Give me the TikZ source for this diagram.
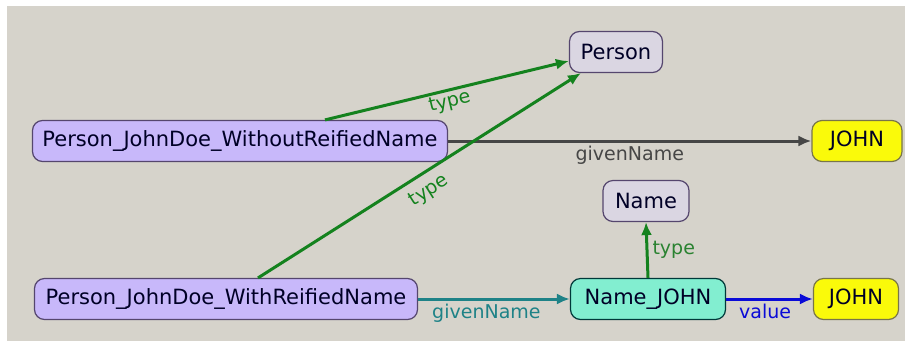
\documentclass[tikz,border=0pt]{standalone}
\usepackage{fontspec}
\setmainfont{DejaVu Sans}
\usetikzlibrary{arrows.meta,positioning}
\definecolor{bgray}{RGB}{214,211,203}
\definecolor{lila}{RGB}{200,184,250}
\definecolor{lilaedge}{RGB}{85,70,110}
\definecolor{clsfill}{RGB}{218,214,226}
\definecolor{aqua}{RGB}{130,238,208}
\definecolor{lityel}{RGB}{250,250,10}
\definecolor{green1}{RGB}{20,130,30}
\definecolor{teal1}{RGB}{30,130,135}
\definecolor{blue1}{RGB}{10,10,215}
\definecolor{gray1}{RGB}{70,70,70}

\tikzset{
  res/.style={draw=lilaedge, line width=1.2pt, rounded corners=10pt, fill=lila,
    minimum height=41pt, inner sep=0pt, text=black!85!blue,
    font=\fontsize{21}{23}\selectfont},
  cls/.style={res, fill=clsfill},
  lit/.style={res, fill=lityel, draw=black!60!yellow},
  obj/.style={res, fill=aqua, draw=black!55!teal},
  rel/.style={line width=3pt, -{Latex[length=13pt,width=11pt]}},
  lbl/.style={font=\fontsize{19}{21}\selectfont, inner sep=1pt}
}

\begin{document}
\begin{tikzpicture}[x=1pt,y=-1pt]
\useasboundingbox (0,0) rectangle (912,341);
\fill[bgray] (7,6) rectangle (905,341);

% ----- top row: resource without reified name -----
\node[cls, minimum width=93pt] (person) at (616,52) {Person};
\node[res, minimum width=415pt] (pwo) at (240,141) {Person\_JohnDoe\_WithoutReifiedName};
\node[lit, minimum width=90pt] (johnA) at (857,141) {JOHN};

% ----- bottom row: resource with reified name -----
\node[cls, minimum width=86pt] (name) at (646,201) {Name};
\node[res, minimum width=383pt] (pw) at (226,299) {Person\_JohnDoe\_WithReifiedName};
\node[obj, minimum width=155pt] (nj) at (648,299) {Name\_JOHN};
\node[lit, minimum width=85pt] (johnB) at (856,299) {JOHN};

% edges
\draw[rel, gray1] (pwo.east) -- (johnA.west)
  node[lbl, text=gray1, pos=0.5, below=3pt] {givenName};
\draw[rel, green1] ([xshift=85pt]pwo.north) -- ([yshift=-9pt]person.west)
  node[lbl, text=green1, pos=0.5, below=1pt, sloped] {type};
\draw[rel, green1] ([xshift=32pt]pw.north) -- ([xshift=12pt]person.south west)
  node[lbl, text=green1, pos=0.5, below=7pt, sloped] {type};
\draw[rel, teal1] (pw.east) -- (nj.west)
  node[lbl, text=teal1, pos=0.45, below=3pt] {givenName};
\draw[rel, green1] (nj.north) -- (name.south)
  node[lbl, text=green1!80!gray, pos=0.5, right=3pt] {type};
\draw[rel, blue1] (nj.east) -- (johnB.west)
  node[lbl, text=blue1, pos=0.45, below=3pt] {value};

\end{tikzpicture}
\end{document}
